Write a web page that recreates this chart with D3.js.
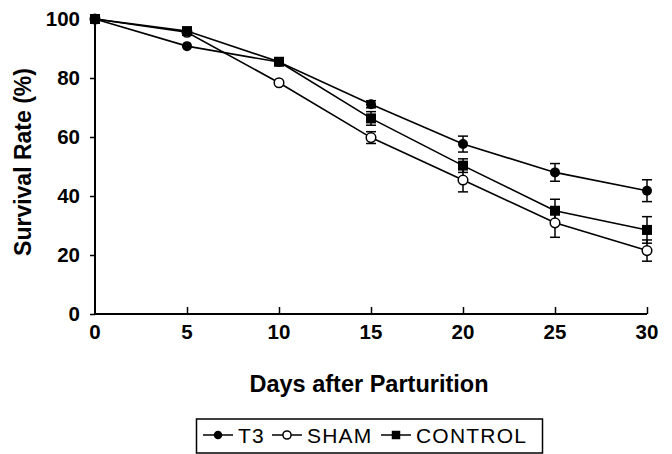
<!DOCTYPE html>
<html>
<head>
<meta charset="utf-8">
<script src="https://cdn.jsdelivr.net/npm/d3@7"></script>
<style>
html,body{margin:0;padding:0;background:#fff;}
svg{display:block;}
</style>
</head>
<body>
<svg id="chart" width="672" height="454"></svg>
<script>
const days = [0, 5, 10, 15, 20, 25, 30];
const seriesNames = ["T3", "SHAM", "CONTROL"];
const t3Values = [100, 90.8, 85.4, 71.1, 57.6, 48.0, 41.8];
const t3Errors = [0, 0, 0, 1.2, 2.7, 3.0, 3.7];
const shamValues = [100, 95.5, 78.4, 59.8, 45.4, 30.9, 21.5];
const shamErrors = [0, 0, 0, 2.0, 4.0, 4.9, 3.6];
const controlValues = [100, 95.9, 85.5, 66.3, 50.3, 35.0, 28.5];
const controlErrors = [0, 0, 0, 2.3, 2.3, 3.9, 4.5];
const xTicks = [0, 5, 10, 15, 20, 25, 30];
const yTicks = [0, 20, 40, 60, 80, 100];

const series = [
  {name: seriesNames[0], values: t3Values, errors: t3Errors, marker: "dot"},
  {name: seriesNames[1], values: shamValues, errors: shamErrors, marker: "circle"},
  {name: seriesNames[2], values: controlValues, errors: controlErrors, marker: "square"}
];

const svg = d3.select("#chart");
const font = "'Liberation Sans', Arial, Helvetica, sans-serif";
const x = d3.scaleLinear().domain([0, 30]).range([95, 647]);
const y = d3.scaleLinear().domain([0, 100]).range([314, 19]);

// axes
const yAxis = d3.axisLeft(y).tickValues(yTicks.filter(d => d < 100)).tickSize(5).tickFormat(d3.format("d"));
const gy = svg.append("g").attr("transform", `translate(${x(0)},0)`).call(yAxis);
gy.select(".domain").attr("stroke", "#000").attr("stroke-width", 2).attr("d", `M0,${y(100)}V${y(0)}`);
gy.selectAll(".tick line").attr("stroke", "#000").attr("stroke-width", 1.5);
gy.selectAll(".tick text").remove();
gy.append("g").selectAll("text").data(yTicks).join("text")
  .attr("x", -15).attr("y", d => y(d) + 7)
  .attr("text-anchor", "end")
  .attr("font-family", font).attr("font-weight", "bold").attr("font-size", 20.5)
  .attr("fill", "#000").text(d => d);

const xAxis = d3.axisBottom(x).tickValues(xTicks.filter(d => d > 0)).tickSize(-7).tickFormat("");
const gx = svg.append("g").attr("transform", `translate(0,${y(0)})`).call(xAxis);
gx.select(".domain").attr("stroke", "#000").attr("stroke-width", 2).attr("d", `M${x(0)},0H${x(30)}`);
gx.selectAll(".tick line").attr("stroke", "#000").attr("stroke-width", 1.5);
svg.append("g").selectAll("text").data(xTicks).join("text")
  .attr("x", d => x(d)).attr("y", 339)
  .attr("text-anchor", "middle")
  .attr("font-family", font).attr("font-weight", "bold").attr("font-size", 20.5)
  .attr("fill", "#000").text(d => d);

// axis titles
svg.append("text").attr("x", 369).attr("y", 392).attr("text-anchor", "middle")
  .attr("font-family", font).attr("font-weight", "bold").attr("font-size", 23.5)
  .attr("fill", "#000").text("Days after Parturition");
svg.append("text").attr("transform", "translate(31,162) rotate(-90)").attr("text-anchor", "middle")
  .attr("font-family", font).attr("font-weight", "bold").attr("font-size", 23)
  .attr("fill", "#000").text("Survival Rate (%)");

// lines
const line = d3.line().x((d, i) => x(days[i])).y(d => y(d));
series.forEach(s => {
  svg.append("path").attr("d", line(s.values)).attr("fill", "none")
    .attr("stroke", "#000").attr("stroke-width", 1.6);
});

// error bars
series.forEach(s => {
  const g = svg.append("g");
  s.values.forEach((v, i) => {
    const e = s.errors[i];
    if (!e) return;
    const cx = x(days[i]), top = y(v + e), bot = y(v - e);
    g.append("line").attr("x1", cx).attr("x2", cx).attr("y1", top).attr("y2", bot).attr("stroke", "#000").attr("stroke-width", 1.5);
    g.append("line").attr("x1", cx - 5).attr("x2", cx + 5).attr("y1", top).attr("y2", top).attr("stroke", "#000").attr("stroke-width", 1.5);
    g.append("line").attr("x1", cx - 5).attr("x2", cx + 5).attr("y1", bot).attr("y2", bot).attr("stroke", "#000").attr("stroke-width", 1.5);
  });
});

function drawMarker(g, type, cx, cy, scale) {
  scale = scale || 1;
  if (type === "dot") {
    g.append("circle").attr("cx", cx).attr("cy", cy).attr("r", 5 * scale).attr("fill", "#000");
  } else if (type === "circle") {
    g.append("circle").attr("cx", cx).attr("cy", cy).attr("r", 4.8 * scale).attr("fill", "#fff").attr("stroke", "#000").attr("stroke-width", 1.5);
  } else {
    const h = 5 * scale;
    g.append("rect").attr("x", cx - h).attr("y", cy - h).attr("width", 2 * h).attr("height", 2 * h).attr("fill", "#000");
  }
}

// markers
[series[1], series[0], series[2]].forEach(s => {
  const g = svg.append("g");
  s.values.forEach((v, i) => drawMarker(g, s.marker, x(days[i]), y(v)));
});

// legend
const lg = svg.append("g");
lg.append("rect").attr("x", 196.5).attr("y", 419).attr("width", 346).attr("height", 34)
  .attr("fill", "#fff").attr("stroke", "#000").attr("stroke-width", 1.5);
const items = [
  {s: series[0], lx: 203, tx: 238},
  {s: series[1], lx: 272, tx: 307},
  {s: series[2], lx: 381, tx: 416}
];
items.forEach(it => {
  const cy = 435;
  lg.append("line").attr("x1", it.lx).attr("x2", it.lx + 30).attr("y1", cy).attr("y2", cy).attr("stroke", "#000").attr("stroke-width", 1.5);
  drawMarker(lg, it.s.marker, it.lx + 15, cy, 0.85);
  lg.append("text").attr("x", it.tx).attr("y", cy + 7.5)
    .attr("font-family", font).attr("font-size", 21).attr("letter-spacing", 1.2).attr("fill", "#000").text(it.s.name);
});
</script>
</body>
</html>
